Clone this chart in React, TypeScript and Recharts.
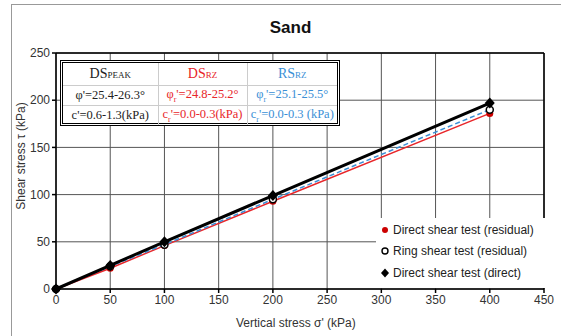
import React from "react";
import {
  ScatterChart, Scatter, XAxis, YAxis, CartesianGrid, ReferenceLine,
} from "recharts";

const stress = [0, 50, 100, 200, 400];
const dsResidual = [0, 22, 46, 93, 186];
const ringResidual = [0, 24, 47, 95, 190];
const dsPeak = [0, 25, 50, 99, 197];
const xTicks = [0, 50, 100, 150, 200, 250, 300, 350, 400, 450];
const yTicks = [0, 50, 100, 150, 200, 250];

const toPts = (ys: number[]) => stress.map((x, i) => ({ x, y: ys[i] }));

const RED = "#e8262a";
const BLUE = "#3a8fd6";

const RedDot = (p: any) => <circle cx={p.cx} cy={p.cy} r={3.5} fill="#cc0000" />;
const OpenDot = (p: any) => (
  <circle cx={p.cx} cy={p.cy} r={3.5} fill="#fff" stroke="#000" strokeWidth={1.5} />
);
const Diamond = (p: any) => (
  <path d={`M${p.cx},${p.cy - 5.5}L${p.cx + 5},${p.cy}L${p.cx},${p.cy + 5.5}L${p.cx - 5},${p.cy}Z`} fill="#000" />
);

const legendItems = [
  { label: "Direct shear test (residual)", mark: <circle cx={5} cy={5} r={3} fill="#cc0000" /> },
  { label: "Ring shear test (residual)", mark: <circle cx={5} cy={5} r={3} fill="#fff" stroke="#000" strokeWidth={1.4} /> },
  { label: "Direct shear test (direct)", mark: <path d="M5,0.5L9,5L5,9.5L1,5Z" fill="#000" /> },
];

function LegendBox() {
  return (
    <div style={{ position: "absolute", left: 376, top: 218, background: "#fff", width: 170, height: 70, padding: "1px 0 0 4px", boxSizing: "border-box", fontFamily: "Arial, 'Liberation Sans'", fontSize: 12, color: "#222", whiteSpace: "nowrap" }}>
      {legendItems.map((it) => (
        <div key={it.label} style={{ display: "flex", alignItems: "center", height: 21.5 }}>
          <svg width={11} height={10} style={{ marginRight: 2 }}>{it.mark}</svg>
          {it.label}
        </div>
      ))}
    </div>
  );
}

const cell: React.CSSProperties = { textAlign: "center", padding: 0, whiteSpace: "nowrap" };

function ParamTable() {
  const serif = "'Times New Roman', 'Liberation Serif', serif";
  return (
    <div style={{ position: "absolute", left: 60, top: 60, width: 280, height: 66, border: "3px double #000", boxSizing: "border-box", background: "#fff", fontFamily: serif, fontSize: 12.5 }}>
      <table style={{ borderCollapse: "collapse", width: "100%", height: "100%", fontFamily: serif, fontSize: 12.5 }}>
        <colgroup>
          <col style={{ width: 95 }} />
          <col style={{ width: 89 }} />
          <col style={{ width: 90 }} />
        </colgroup>
        <tbody>
          <tr style={{ height: 22, borderBottom: "1px solid #ccc" }}>
            <td style={{ ...cell, fontSize: 14, color: "#222", borderRight: "1px solid #ccc" }}>DS<span style={{ fontSize: 9 }}>PEAK</span></td>
            <td style={{ ...cell, fontSize: 14, color: RED, borderRight: "1px solid #ccc" }}>DS<span style={{ fontSize: 9 }}>RZ</span></td>
            <td style={{ ...cell, fontSize: 14, color: BLUE }}>RS<span style={{ fontSize: 9 }}>RZ</span></td>
          </tr>
          <tr style={{ height: 20, borderBottom: "1px solid #ccc" }}>
            <td style={{ ...cell, color: "#222", borderRight: "1px solid #ccc" }}>φ'=25.4-26.3°</td>
            <td style={{ ...cell, color: RED, borderRight: "1px solid #ccc" }}>φ<sub style={{ fontSize: 8 }}>r</sub>'=24.8-25.2°</td>
            <td style={{ ...cell, color: BLUE }}>φ<sub style={{ fontSize: 8 }}>r</sub>'=25.1-25.5°</td>
          </tr>
          <tr style={{ height: 20 }}>
            <td style={{ ...cell, color: "#222", borderRight: "1px solid #ccc" }}>c'=0.6-1.3(kPa)</td>
            <td style={{ ...cell, color: RED, borderRight: "1px solid #ccc" }}>c<sub style={{ fontSize: 8 }}>r</sub>'=0.0-0.3(kPa)</td>
            <td style={{ ...cell, color: BLUE }}>c<sub style={{ fontSize: 8 }}>r</sub>'=0.0-0.3 (kPa)</td>
          </tr>
        </tbody>
      </table>
    </div>
  );
}

export default function App() {
  const tickStyle = { fontSize: 12, fill: "#333", fontFamily: "Arial, 'Liberation Sans'" };
  return (
    <div style={{ position: "fixed", left: 0, top: 0, width: 561, height: 336, background: "#fff", overflow: "hidden" }}>
      <div style={{ position: "absolute", left: 11, top: 4, width: 600, height: 400, border: "1px solid #999" }} />
      <div style={{ position: "absolute", left: 0, width: 561, top: 18, textAlign: "center", fontFamily: "Arial, 'Liberation Sans'", fontWeight: "bold", fontSize: 17, color: "#111", paddingLeft: 20, boxSizing: "border-box" }}>Sand</div>
      <div style={{ position: "absolute", left: 236, top: 316, fontFamily: "Arial, 'Liberation Sans'", fontSize: 12, color: "#333", whiteSpace: "nowrap" }}>Vertical stress σ'  (kPa)</div>
      <div style={{ position: "absolute", left: 21, top: 156, transform: "translate(-50%,-50%) rotate(-90deg)", fontFamily: "Arial, 'Liberation Sans'", fontSize: 12, color: "#333", whiteSpace: "nowrap" }}>Shear stress τ  (kPa)</div>
      <div style={{ position: "absolute", left: 0, top: 0 }}>
        <ScatterChart width={561} height={336} margin={{ top: 53, right: 17, bottom: 27, left: 26 }}>
          <CartesianGrid stroke="#555" strokeWidth={1} />
          <XAxis type="number" dataKey="x" domain={[0, 450]} ticks={xTicks} tick={tickStyle} stroke="#000" strokeWidth={1.5} tickSize={4} height={20} interval={0} />
          <YAxis type="number" dataKey="y" domain={[0, 250]} ticks={yTicks} tick={tickStyle} stroke="#000" strokeWidth={1.5} tickSize={4} width={30} interval={0} />
          <ReferenceLine y={250} stroke="#000" strokeWidth={1.5} />
          <ReferenceLine x={450} stroke="#000" strokeWidth={1.5} />
          <Scatter name="Direct shear test (residual)" data={toPts(dsResidual)} line={{ stroke: RED, strokeWidth: 1.5 }} shape={RedDot} isAnimationActive={false} />
          <Scatter name="Ring shear test (residual)" data={toPts(ringResidual)} line={{ stroke: BLUE, strokeWidth: 1.5, strokeDasharray: "5 3" }} shape={OpenDot} isAnimationActive={false} />
          <Scatter name="Direct shear test (direct)" data={toPts(dsPeak)} line={{ stroke: "#000", strokeWidth: 3 }} shape={Diamond} isAnimationActive={false} />
        </ScatterChart>
      </div>
      <ParamTable />
      <LegendBox />
    </div>
  );
}
